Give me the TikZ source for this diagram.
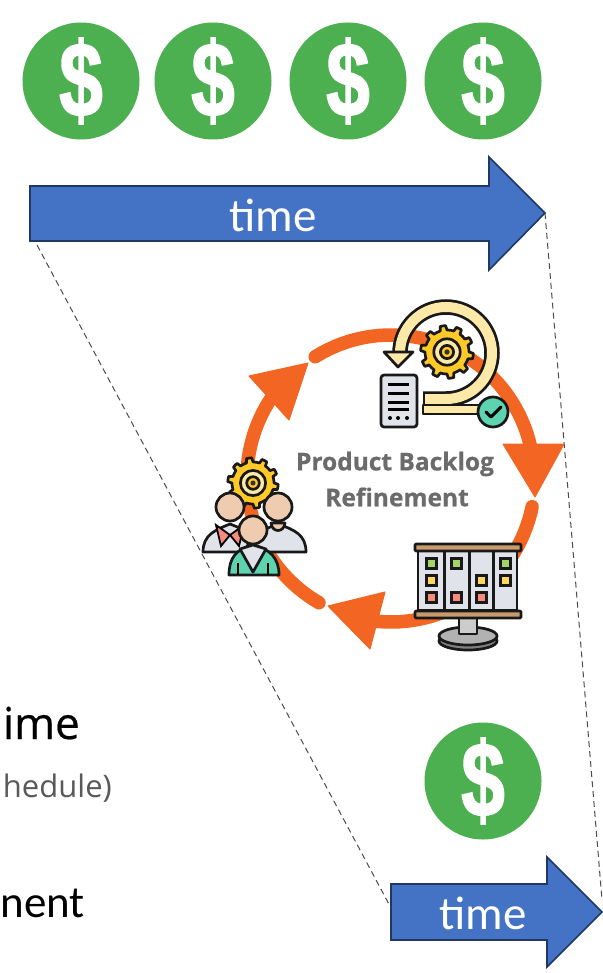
\documentclass[tikz,border=0pt]{standalone}
\usepackage{fontspec}
\setmainfont{Carlito}
\newfontfamily\opensans{Open Sans}
\newfontfamily\dollarfont{Liberation Sans Bold}[FakeBold=1.6]
\definecolor{coin}{HTML}{4CAF50}
\definecolor{arrowblue}{HTML}{4472C4}
\definecolor{arrowedge}{HTML}{1F3864}
\definecolor{ringc}{HTML}{F26522}
\definecolor{cream}{HTML}{FFE9A8}
\definecolor{gold}{HTML}{FFC928}
\definecolor{sheet}{HTML}{E0E3E9}
\definecolor{teal}{HTML}{5DD3B0}
\definecolor{skin}{HTML}{EFCBB0}
\definecolor{wood}{HTML}{C89B6C}
\definecolor{noteg}{HTML}{A3D468}
\definecolor{notey}{HTML}{FFD75E}
\definecolor{noter}{HTML}{F88A7C}
\tikzset{
  blockarrow/.style={fill=arrowblue,draw=arrowedge,line width=1.6pt,line join=miter},
  guide/.style={draw=black!70,line width=1pt,dash pattern=on 6pt off 4pt},
  ringarc/.style={draw=ringc,line width=13.5pt,line cap=round},
  ringhead/.style={fill=ringc,draw=ringc,line width=1pt,line join=round},
  icon/.style={draw=black!90,line width=2.7pt,line join=round},
  timelabel/.style={text=white,font=\fontsize{47}{47}\selectfont,inner sep=0pt},
  dollar/.style={text=white,font=\dollarfont\fontsize{96}{96}\selectfont,inner sep=0pt,transform shape,xscale=0.82,yscale=1.1},
  coinbody/.style={circle,fill=coin,minimum size=117pt,inner sep=0pt},
  titlelabel/.style={text=black!58,font=\opensans\bfseries\fontsize{24.5}{24.5}\selectfont\addfontfeatures{FakeBold=0.6},inner sep=0pt},
}
\newcommand{\moneycoin}[3]{%
  \node[coinbody] (#3) at (#1,#2) {};
  \node[dollar] at (#1,#2) {\$};
}
\newcommand{\cog}[4]{% cx cy body-radius teeth
  \draw[icon,fill=gold] plot[samples=121,domain=0:360] ({#1+(#3+0.2*#3*(sin(#4*\x)>0?1:0))*cos(\x)},{#2+(#3+0.2*#3*(sin(#4*\x)>0?1:0))*sin(\x)}) -- cycle;
  \draw[icon,fill=cream] (#1,#2) circle[radius=0.6*#3 pt];
  \draw[icon,fill=gold] (#1,#2) circle[radius=0.3*#3 pt];
  \fill[black!80] (#1,#2) circle[radius=0.12*#3 pt];
}
\newcommand{\note}[3]{\draw[draw=black!90,line width=3pt,fill=#3] (#1-5,#2-5) rectangle (#1+5,#2+5);}
\begin{document}
\begin{tikzpicture}[x=1pt,y=-1pt]
\useasboundingbox (0,0) rectangle (602,973);
\fill[white] (0,0) rectangle (602,973);

% coins
\moneycoin{81}{81}{c1}
\moneycoin{213}{81}{c2}
\moneycoin{348}{81}{c3}
\moneycoin{483}{81}{c4}
\moneycoin{483}{781}{c5}

% block arrows
\draw[blockarrow] (30,186) -- (489,186) -- (489,157) -- (545,213) -- (489,270) -- (489,241) -- (30,241) -- cycle;
\node[timelabel] (t1) at (273,215) {time};
\draw[blockarrow] (391,884) -- (547,884) -- (547,857) -- (602,912) -- (547,967) -- (547,940) -- (391,940) -- cycle;
\node[timelabel] (t2) at (483,913) {time};

% guide lines
\coordinate (bigleft) at (37,245);
\coordinate (bigtip) at (545,213);
\coordinate (smallleft) at (391,908);
\coordinate (smalltip) at (602,900);
\draw[guide] (bigleft) -- (smallleft);
\draw[guide] (bigtip) -- (smalltip);

% ring
\draw[ringarc] plot[smooth,samples=60,domain=-122:-8] ({391+143*cos(\x)},{478+143*sin(\x)});
\fill[ringhead] (503,444) -- (564,444) -- (535,497) -- cycle;
\draw[ringarc] plot[smooth,samples=60,domain=11.5:100] ({391+144*cos(\x)},{478+144*sin(\x)});
\fill[ringhead] (328,606) -- (385,592) -- (370,649) -- cycle;
\draw[ringarc] plot[smooth,samples=60,domain=120:218] ({391+144*cos(\x)},{478+144*sin(\x)});
\fill[ringhead] (308,363) -- (249,376) -- (289,420) -- cycle;

% ring title
\node[titlelabel] (rt1) at (395,464) {Product Backlog};
\node[titlelabel] (rt2) at (397,497) {Refinement};

% top icon: loop arrow, gear, document, check
\draw[draw=black!90,line width=15.5pt] (400,353) arc[start angle=180,end angle=-90,radius=46pt] -- (423,399);
\draw[draw=cream,line width=10pt] (400,353) arc[start angle=180,end angle=-90,radius=46pt] -- (425,399);
\draw[icon,fill=cream] (384,352) -- (413,352) -- (398,367) -- cycle;
\cog{447}{352}{22}{10}
\draw[icon,fill=sheet,rounded corners=3pt] (381,375) rectangle (417,427);
\foreach \yy in {384,393,402,409} \draw[black,line width=3pt] (388,\yy) -- (409,\yy);
\foreach \xx in {390,398,407} \fill[black] (\xx,418) circle[radius=2pt];
\draw[icon,fill=cream] (423,405) rectangle (482,414);
\draw[icon,fill=teal] (493,412) circle[radius=15pt];
\draw[black,line width=3pt,line cap=round,line join=round] (486,412) -- (491,417) -- (501,407);

% people icon
\cog{253}{483}{21}{10}
\draw[icon,fill=sheet] (203,552) .. controls (203,535) and (215,530) .. (230,524) .. controls (245,530) and (258,535) .. (262,552) -- cycle;
\draw[icon,fill=sheet] (245,552) .. controls (250,535) and (262,530) .. (278,524) .. controls (295,530) and (306,535) .. (306,552) -- cycle;
\draw[line width=1.8pt,fill=noter] (216,525) -- (230,535) -- (221,546) -- cycle;
\draw[line width=1.8pt,fill=noter] (244,525) -- (230,535) -- (239,546) -- cycle;
\draw[icon,fill=skin] (230,507) circle[radius=14pt];
\draw[icon,fill=skin] (278,507) circle[radius=14pt];
\draw[icon,fill=skin] (271,523) .. controls (272,533) and (284,533) .. (285,523) -- cycle;
\draw[icon,fill=teal] (229,575) .. controls (229,558) and (236,549) .. (253,545) .. controls (270,549) and (279,558) .. (279,575) -- cycle;
\draw[icon,fill=sheet] (240,549) -- (253,572) -- (266,549) -- (253,545) -- cycle;
\draw[line width=2pt] (238,575) -- (238,563);
\draw[line width=2pt] (268,575) -- (268,563);
\draw[icon,fill=skin] (253,530) circle[radius=14pt];

% board icon
\draw[icon,fill=black!50] (468,641) ellipse[x radius=29pt,y radius=9pt];
\draw[icon,fill=black!30] (468,636) ellipse[x radius=29pt,y radius=9pt];
\draw[icon,fill=black!20] (459,618) rectangle (477,634);
\draw[icon,fill=sheet] (418,551) rectangle (517,610);
\foreach \xx in {444,469,493} \draw[black!90,line width=3pt] (\xx,551) -- (\xx,610);
\draw[icon,fill=wood,rounded corners=1pt] (415,544) rectangle (521,551);
\draw[icon,fill=wood,rounded corners=1pt] (415,611) rectangle (521,618);
\note{431}{563}{noteg}\note{431}{580}{notey}\note{431}{597}{noter}
\note{456}{563}{noteg}\note{456}{597}{noter}
\note{481}{580}{notey}\note{481}{597}{noter}
\note{505}{563}{noteg}\note{505}{580}{notey}

% captions at the left edge
\node[anchor=base east,inner sep=0pt,font=\opensans\fontsize{44}{44}\selectfont\addfontfeatures{FakeBold=0.5}] (cap1) at (80,739) {ime};
\node[anchor=base east,inner sep=0pt,text=black!65,font=\opensans\fontsize{31}{31}\selectfont] (cap2) at (112,797) {hedule)};
\node[anchor=base east,inner sep=0pt,font=\fontsize{45}{45}\selectfont] (cap3) at (85,917) {nent};
\end{tikzpicture}
\end{document}
